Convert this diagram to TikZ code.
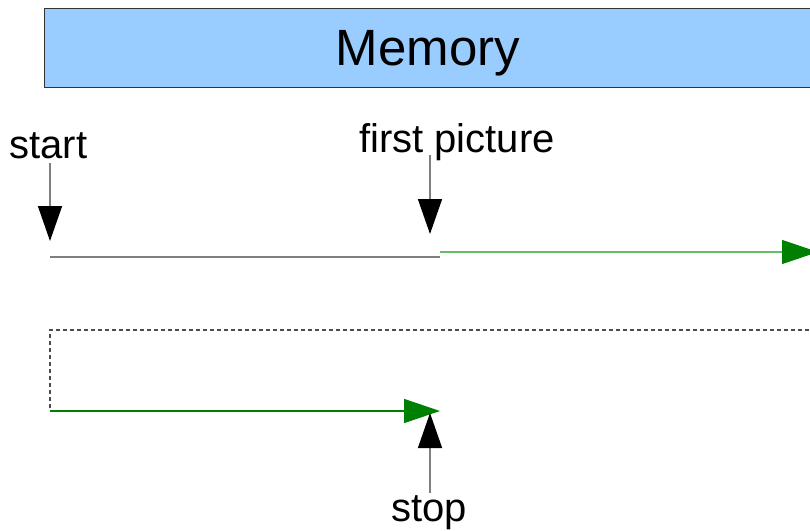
\documentclass[tikz,border=0pt]{standalone}
\usepackage{fontspec}
\setmainfont{Liberation Sans}
\usetikzlibrary{arrows.meta}
\definecolor{memblue}{HTML}{99CCFF}
\definecolor{lightgreen}{HTML}{66BB66}
\definecolor{darkgreen}{HTML}{008000}
\definecolor{shaftgrey}{HTML}{7F7F7F}
\tikzset{
  lbl/.style={font=\fontsize{40}{40}\selectfont, anchor=base, inner sep=0pt},
  pointer/.style={draw=shaftgrey, line width=1.5pt, -{Triangle[length=35pt,width=24pt,fill=black,color=black]}},
  greenarrow/.style={line width=1.5pt, -{Triangle[length=36pt,width=24pt,color=darkgreen]}},
}
\begin{document}
\begin{tikzpicture}[x=1pt,y=-1pt]
\useasboundingbox (0,0) rectangle (810,530);
% memory bar
\node[draw=black!80, line width=1.2pt, fill=memblue, minimum width=780pt, minimum height=79pt, anchor=north west, inner sep=0pt] (mem) at (44,8) {};
\node[font=\fontsize{51}{51}\selectfont, anchor=base, inner sep=0pt] (memtxt) at (428,65) {Memory};
% labels
\node[lbl] (start) at (48.5,158.5) {start};
\node[lbl] (first) at (457,152) {first picture};
\node[lbl] (stop) at (429,521) {stop};
% coordinates
\coordinate (s0) at (50,163);
\coordinate (s1) at (50,241);
\coordinate (f0) at (430,155);
\coordinate (f1) at (430,234);
\coordinate (b0) at (50,257);
\coordinate (b1) at (440,257);
\coordinate (g0) at (440,252);
\coordinate (g1) at (818,252);
\coordinate (d0) at (830,330);
\coordinate (d1) at (50,330);
\coordinate (d2) at (50,410);
\coordinate (l0) at (50,411);
\coordinate (l1) at (440,411);
\coordinate (p0) at (430,493);
\coordinate (p1) at (430,413);
% pointers
\draw[pointer] (s0) -- (s1);
\draw[pointer] (f0) -- (f1);
% black baseline
\draw[shaftgrey, line width=1.6pt] (b0) -- (b1);
% upper green arrow
\draw[greenarrow, lightgreen, line width=1.2pt] (g0) -- (g1);
% dashed loop back
\draw[black!70, line width=1.1pt, dash pattern=on 4pt off 3pt] (d0) -- (d1) -- (d2);
% lower green arrow
\draw[greenarrow, darkgreen] (l0) -- (l1);
% stop pointer
\draw[pointer] (p0) -- (p1);
\end{tikzpicture}
\end{document}
